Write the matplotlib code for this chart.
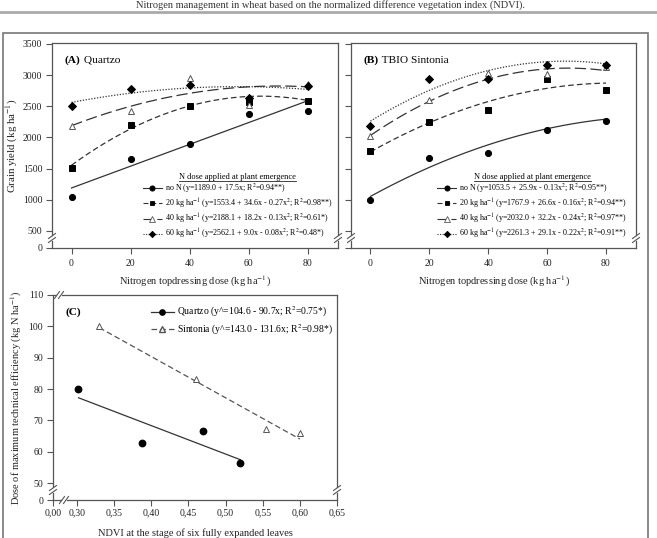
import matplotlib
matplotlib.use("Agg")
import matplotlib.pyplot as plt
import numpy as np
from matplotlib.patches import Rectangle
from matplotlib.lines import Line2D

plt.rcParams["font.family"] = ["Liberation Serif", "DejaVu Serif"]
plt.rcParams["mathtext.fontset"] = "stix"

W, H = 657, 538

# --- data
doses = [0, 20, 40, 60, 80]
dose_ticks = [0, 20, 40, 60, 80]

quartzo_non = [1050, 1660, 1890, 2370, 2430]
quartzo_20 = [1515, 2200, 2500, 2570, 2590]
quartzo_40 = [2190, 2425, 2960, 2525, 2865]
quartzo_60 = [2510, 2780, 2845, 2640, 2820]

sintonia_non = [1000, 1670, 1750, 2120, 2260]
sintonia_20 = [1775, 2240, 2440, 2930, 2765]
sintonia_40 = [2020, 2600, 3030, 3010, 3130]
sintonia_60 = [2190, 2935, 2930, 3160, 3155]

# regression coefficients from the legends (x^2, x, const)
quartzo_fits = [[0.0, 17.5, 1189.0], [-0.27, 34.6, 1553.4], [-0.13, 18.2, 2188.1], [-0.08, 9.0, 2562.1]]
sintonia_fits = [[-0.13, 25.9, 1053.5], [-0.16, 26.6, 1767.9], [-0.24, 32.2, 2032.0], [-0.22, 29.1, 2261.3]]

quartzo_labels = [
    "no N (y=1189.0 + 17.5x; R$^2$=0.94**)",
    "20 kg ha$^{-1}$ (y=1553.4 + 34.6x - 0.27x$^2$; R$^2$=0.98**)",
    "40 kg ha$^{-1}$ (y=2188.1 + 18.2x - 0.13x$^2$; R$^2$=0.61*)",
    "60 kg ha$^{-1}$ (y=2562.1 + 9.0x - 0.08x$^2$; R$^2$=0.48*)",
]
sintonia_labels = [
    "no N (y=1053.5 + 25.9x - 0.13x$^2$; R$^2$=0.95**)",
    "20 kg ha$^{-1}$ (y=1767.9 + 26.6x - 0.16x$^2$; R$^2$=0.94**)",
    "40 kg ha$^{-1}$ (y=2032.0 + 32.2x - 0.24x$^2$; R$^2$=0.97**)",
    "60 kg ha$^{-1}$ (y=2261.3 + 29.1x - 0.22x$^2$; R$^2$=0.91**)",
]
yield_ticks = [500, 1000, 1500, 2000, 2500, 3000, 3500]

quartzo_ndvi = [0.302, 0.388, 0.470, 0.520]
quartzo_mte = [80.0, 62.8, 66.5, 56.3]
sintonia_ndvi = [0.330, 0.460, 0.555, 0.600]
sintonia_mte = [100.0, 83.2, 67.1, 66.1]
quartzo_line = [104.6, -90.7]
sintonia_line = [143.0, -131.6]
ndvi_ticks = [0.30, 0.35, 0.40, 0.45, 0.50, 0.55, 0.60, 0.65]
mte_ticks = [50, 60, 70, 80, 90, 100, 110]

# --- styles
styles = [
    dict(ls="-", marker="o", mfc="black", mec="black", ms=4.4),
    dict(ls=(0, (4.5, 2.5)), marker="s", mfc="black", mec="black", ms=4.0),
    dict(ls=(0, (9, 3.5)), marker="^", mfc="white", mec="#555555", ms=4.8),
    dict(ls=(0, (1, 1.3)), marker="D", mfc="black", mec="black", ms=3.8),
]
SPINE = "#555555"
TXT = "#222222"


def ax_rect(l, t, r, b):
    return [l / W, 1 - b / H, (r - l) / W, (b - t) / H]


fig = plt.figure(figsize=(W / 100, H / 100), dpi=100)

# page decorations
fig.text(330 / W, 1.0, "Nitrogen management in wheat based on the normalized difference vegetation index (NDVI).",
         ha="center", va="top", fontsize=7.5, color="#333333")
fig.add_artist(Line2D([0, 1], [1 - 11.5 / H, 1 - 11.5 / H], color="#aaaaaa", lw=2, transform=fig.transFigure))
fig.add_artist(Rectangle((3 / W, -0.02), 645 / W, 1.02 - 33 / H, fill=False, ec="#777777", lw=1.2,
                         transform=fig.transFigure))


def style_axes(ax, xpad=3):
    for s in ax.spines.values():
        s.set_color(SPINE)
        s.set_linewidth(0.9)
    ax.tick_params(direction="out", length=4, width=0.8, color=SPINE, labelsize=7, labelcolor=TXT, pad=3)
    ax.tick_params(axis="x", pad=xpad)


def vbreak(ax, xa, py):
    # break marks on a vertical spine, py = pixel offset from axes bottom
    bb = ax.get_position()
    wpx, hpx = bb.width * W, bb.height * H
    for off in (-2.0, 2.0):
        y = (py + off) / hpx
        ax.plot([xa - 3.5 / wpx, xa + 3.5 / wpx], [y - 2.5 / hpx, y + 2.5 / hpx], color=SPINE, lw=0.8,
                transform=ax.transAxes, clip_on=False, zorder=6)
    ax.plot([xa, xa], [(py - 1.2) / hpx, (py + 1.2) / hpx], color="white", lw=2, transform=ax.transAxes,
            clip_on=False, zorder=5)


def hbreak(ax, px, ya):
    bb = ax.get_position()
    wpx, hpx = bb.width * W, bb.height * H
    for off in (-2.0, 2.0):
        x = (px + off) / wpx
        ax.plot([x - 2.5 / wpx, x + 2.5 / wpx], [ya - 3.5 / hpx, ya + 3.5 / hpx], color=SPINE, lw=0.8,
                transform=ax.transAxes, clip_on=False, zorder=6)
    ax.plot([(px - 1.2) / wpx, (px + 1.2) / wpx], [ya, ya], color="white", lw=2, transform=ax.transAxes,
            clip_on=False, zorder=5)


def panel_title(ax, bold, rest):
    t = ax.text(0.045, 0.905, bold, transform=ax.transAxes, fontsize=8.2, fontweight="bold", va="baseline")
    if rest:
        ax.annotate(" " + rest, xy=(1, 0), xycoords=t, fontsize=8.2, va="bottom", ha="left")


def yield_panel(ax, series, fits, labels, title_bold, title_rest, show_ylabels, legend_xy):
    xs = np.linspace(0, 80, 200)
    handles = []
    for vals, coef, st, lab in zip(series, fits, styles, labels):
        ax.plot(xs, np.polyval(coef, xs), color="#333333", lw=0.9, ls=st["ls"], zorder=2)
        ax.plot(doses, vals, ls="none", marker=st["marker"], mfc=st["mfc"], mec=st["mec"], ms=st["ms"],
                mew=0.7, zorder=3)
        handles.append(Line2D([], [], color="#333333", lw=0.8, ls=st["ls"], marker=st["marker"],
                              mfc=st["mfc"], mec=st["mec"], ms=st["ms"] * 0.85, mew=0.6, label=lab))
    ybot = 500 - 17 / (186 / 3000)
    ax.set_ylim(ybot, 3515)
    ax.set_xlim(-6.6, 90.2)
    ax.set_xticks(dose_ticks)
    ax.set_yticks([ybot] + yield_ticks)
    if show_ylabels:
        ax.set_yticklabels(["0"] + [str(v) for v in yield_ticks])
    else:
        ax.set_yticklabels([])
    ax.set_xlabel("Nitrogen topdressing dose (kg ha$^{-1}$)", fontsize=7.5, color=TXT, labelpad=4.5)
    style_axes(ax, xpad=4)
    panel_title(ax, title_bold, title_rest)
    leg = ax.legend(handles=handles, loc="lower left", bbox_to_anchor=legend_xy, frameon=False, fontsize=5.8,
                    title="N dose applied at plant emergence", title_fontsize=6.0, handlelength=2.4,
                    handletextpad=0.35, labelspacing=0.15, borderpad=0.1)
    vbreak(ax, 0, 10)
    vbreak(ax, 1, 10)
    return leg


axA = fig.add_axes(ax_rect(52, 43, 338, 248))
legA = yield_panel(axA, [quartzo_non, quartzo_20, quartzo_40, quartzo_60], quartzo_fits, quartzo_labels,
                   "(A)", "Quartzo", True, (0.30, 0.01))
axA.set_ylabel("Grain yield (kg ha$^{-1}$)", fontsize=7.8, color=TXT, labelpad=2)

axB = fig.add_axes(ax_rect(351, 43, 636, 248))
legB = yield_panel(axB, [sintonia_non, sintonia_20, sintonia_40, sintonia_60], sintonia_fits, sintonia_labels,
                   "(B)", "TBIO Sintonia", False, (0.285, 0.01))

# --- panel C
axC = fig.add_axes(ax_rect(53, 295, 337, 500))
xq = np.array([min(quartzo_ndvi), max(quartzo_ndvi)])
xsn = np.array([min(sintonia_ndvi), max(sintonia_ndvi)])
axC.plot(xq, quartzo_line[0] + quartzo_line[1] * xq, color="#333333", lw=0.9, ls="-")
axC.plot(xsn, sintonia_line[0] + sintonia_line[1] * xsn, color="#555555", lw=0.9, ls=(0, (4.5, 2.5)))
axC.plot(quartzo_ndvi, quartzo_mte, ls="none", marker="o", mfc="black", mec="black", ms=4.6)
axC.plot(sintonia_ndvi, sintonia_mte, ls="none", marker="^", mfc="white", mec="#555555", ms=5, mew=0.7)
hC = [
    Line2D([], [], color="#333333", lw=0.9, marker="o", mfc="black", mec="black", ms=3.8,
           label="Quartzo (y^=104.6 - 90.7x; R$^2$=0.75*)"),
    Line2D([], [], color="#555555", lw=0.9, ls=(0, (4.5, 2.5)), marker="^", mfc="white", mec="#555555", ms=4,
           label="Sintonia (y^=143.0 - 131.6x; R$^2$=0.98*)"),
]
axC.legend(handles=hC, loc="upper left", bbox_to_anchor=(0.32, 0.985), frameon=False, fontsize=6.9,
           handlelength=2.4, handletextpad=0.4, labelspacing=0.35, borderpad=0.2)
xleft = 0.30 - 24 / 743
ybotC = 50 - 17 / 3.14
axC.set_xlim(xleft, 0.65)
axC.set_ylim(ybotC, 110)
axC.set_xticks([xleft] + ndvi_ticks)
axC.set_xticklabels(["0,00"] + [f"{v:.2f}".replace(".", ",") for v in ndvi_ticks])
axC.set_yticks([ybotC] + mte_ticks)
axC.set_yticklabels(["0"] + [str(v) for v in mte_ticks])
style_axes(axC, xpad=2)
axC.set_xlabel("NDVI at the stage of six fully expanded leaves", fontsize=7.5, color=TXT, labelpad=8)
axC.set_ylabel("Dose of maximum technical efficiency (kg N ha$^{-1}$)", fontsize=7.5, color=TXT, labelpad=3)
panel_title(axC, "(C)", "")
vbreak(axC, 0, 10)
vbreak(axC, 1, 10)
hbreak(axC, 11, 0)
hbreak(axC, 6, 1)

# underline the legend titles
fig.canvas.draw()
r = fig.canvas.get_renderer()
for leg in (legA, legB):
    bb = leg.get_title().get_window_extent(r)
    y = (bb.y0 - 0.5) / H
    fig.add_artist(Line2D([bb.x0 / W, bb.x1 / W], [y, y], color="#222222", lw=0.6, transform=fig.transFigure))

fig.savefig("out.png", dpi=100)
